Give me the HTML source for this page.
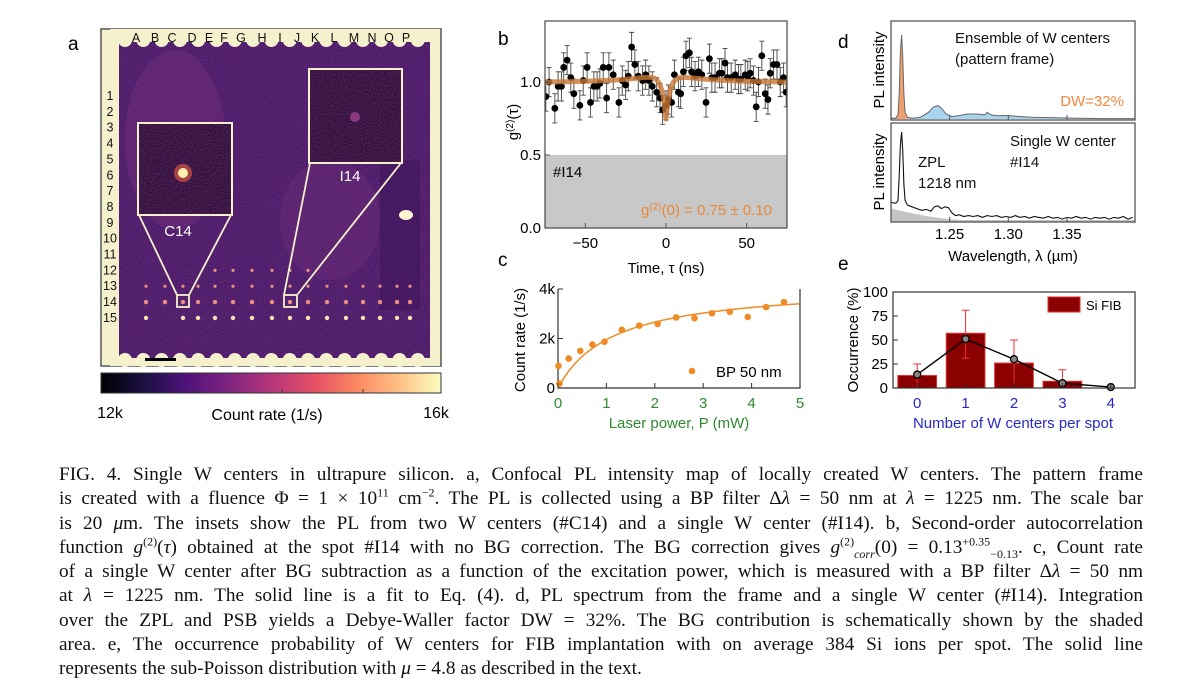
<!DOCTYPE html>
<html><head><meta charset="utf-8">
<style>
html,body{margin:0;padding:0;background:#fff;width:1200px;height:697px;overflow:hidden}
svg text{font-family:"Liberation Sans",sans-serif}
#caption{position:absolute;left:59px;top:463px;width:1084px;font-family:"Liberation Serif",serif;font-size:19.3px;color:#111}
#caption .ln{height:24.25px;line-height:24.25px;text-align:justify;text-align-last:justify;white-space:nowrap}
#caption .last{text-align-last:left}
sup,sub{font-size:12px;line-height:0}
</style></head>
<body>
<svg id="fig" width="1200" height="460" style="position:absolute;left:0;top:0" xmlns="http://www.w3.org/2000/svg">
<defs>
<linearGradient id="magma" x1="0" x2="1" y1="0" y2="0">
<stop offset="0" stop-color="#000004"/><stop offset="0.13" stop-color="#1c1044"/><stop offset="0.25" stop-color="#4f127b"/><stop offset="0.38" stop-color="#812581"/><stop offset="0.5" stop-color="#b5367a"/><stop offset="0.63" stop-color="#e55064"/><stop offset="0.75" stop-color="#fb8761"/><stop offset="0.88" stop-color="#fec287"/><stop offset="1" stop-color="#fcfdbf"/>
</linearGradient>
<filter id="noise" x="0" y="0" width="100%" height="100%">
<feTurbulence type="fractalNoise" baseFrequency="0.9" numOctaves="1" seed="3" result="n"/>
<feColorMatrix in="n" type="matrix" values="0 0 0 0 0.7  0 0 0 0 0.3  0 0 0 0 0.5  0 0 0 1.2 -0.45" result="c"/>
<feComposite in="c" in2="SourceGraphic" operator="in"/>
</filter>
<clipPath id="clipB"><rect x="545" y="21" width="242" height="207"/></clipPath>
<clipPath id="clipD1"><rect x="891" y="21" width="244" height="99"/></clipPath>
<clipPath id="clipD2"><rect x="891" y="123" width="244" height="99"/></clipPath>
</defs>
<g id="panel-a"></g>
<g id="panel-b"></g>
<g id="panel-c"></g>
<g id="panel-d"></g>
<g id="panel-e"></g>
</svg>

<div id="caption">
<div class="ln">FIG. 4. Single W centers in ultrapure silicon. a, Confocal PL intensity map of locally created W centers. The pattern frame</div>
<div class="ln">is created with a fluence Φ = 1 × 10<sup>11</sup> cm<sup>−2</sup>. The PL is collected using a BP filter Δ<i>λ</i> = 50 nm at <i>λ</i> = 1225 nm. The scale bar</div>
<div class="ln">is 20 <i>μ</i>m. The insets show the PL from two W centers (#C14) and a single W center (#I14). b, Second-order autocorrelation</div>
<div class="ln">function <i>g</i><sup>(2)</sup>(<i>τ</i>) obtained at the spot #I14 with no BG correction. The BG correction gives <i>g</i><sup>(2)</sup><sub><i>corr</i></sub>(0) = 0.13<sup>+0.35</sup><sub>−0.13</sub>. c, Count rate</div>
<div class="ln">of a single W center after BG subtraction as a function of the excitation power, which is measured with a BP filter Δ<i>λ</i> = 50 nm</div>
<div class="ln">at <i>λ</i> = 1225 nm. The solid line is a fit to Eq. (4). d, PL spectrum from the frame and a single W center (#I14). Integration</div>
<div class="ln">over the ZPL and PSB yields a Debye-Waller factor DW = 32%. The BG contribution is schematically shown by the shaded</div>
<div class="ln">area. e, The occurrence probability of W centers for FIB implantation with on average 384 Si ions per spot. The solid line</div>
<div class="ln last">represents the sub-Poisson distribution with <i>μ</i> = 4.8 as described in the text.</div>
</div>

<script>
// ---------- Panel a data ----------
const colLetters = ["A","B","C","D","E","F","G","H","I","J","K","L","M","N","O","P"];
const rowNumbers = ["1","2","3","4","5","6","7","8","9","10","11","12","13","14","15"];
const colorbarTicks = ["12k","16k"];
// ---------- Panel b data ----------
const bTau = [-74.5,-72.5,-68.9,-66.9,-64.8,-63.4,-61.3,-59.0,-57.1,-53.4,-51.3,-48.9,-46.8,-44.7,-42.7,-41.0,-38.9,-36.8,-35.4,-32.7,-29.2,-27.1,-25.0,-23.4,-21.3,-19.3,-17.2,-14.5,-12.6,-10.6,-8.5,-5.8,-3.7,-2.1,0,1.4,3.5,5.2,7.7,9.1,10.8,12.4,14.5,15.9,18.0,20.1,22.2,24.8,26.9,28.4,30.4,33.1,34.6,36.6,38.1,40.4,42.9,44.9,46.4,49.1,50.7,52.2,54.2,55.9,57.3,59.4,61.5,63.2,64.6,66.7,68.8,70.8,72.9,74.5];
const bG = [0.90,1.00,0.82,0.97,0.97,1.10,1.15,1.03,0.92,0.84,1.01,1.10,0.86,0.97,0.97,0.99,1.10,0.89,1.10,1.05,0.86,1.01,0.98,1.04,1.24,1.12,1.04,1.01,1.05,1.01,0.97,0.93,0.89,0.81,0.84,0.88,0.86,1.05,0.93,0.92,1.07,1.18,1.20,1.07,1.04,1.07,1.05,0.86,1.16,1.03,1.03,1.06,1.06,1.13,1.03,1.03,1.05,1.02,1.02,1.05,1.04,1.06,1.01,0.83,1.00,1.18,0.92,0.88,1.06,1.12,1.12,1.00,1.03,0.93];
const bErr = [0.1];
const bFitParams = [0.31, 2.5, 0.06, 25];
const bXTicks = [-50,0,50];
const bYTicks = [0.0,0.5,1.0];
// ---------- Panel c data ----------
const cPower = [0.01,0.03,0.22,0.46,0.71,0.96,1.32,1.68,2.06,2.44,2.82,3.18,3.55,3.92,4.30,4.67];
const cRate = [0.89,0.18,1.19,1.50,1.76,1.87,2.35,2.52,2.59,2.85,2.82,3.02,3.08,2.87,3.27,3.47];
const cFitParams = [4.18, 1.14];
const cXTicks = [0,1,2,3,4,5];
const cYTicks = [0,2,4];
const cYLabels = ["0","2k","4k"];
// ---------- Panel d data ----------
const dWlEns = [1.2,1.204,1.206,1.207,1.208,1.209,1.210,1.211,1.212,1.214,1.218,1.225,1.232,1.236,1.24,1.243,1.247,1.252,1.258,1.265,1.272,1.28,1.282,1.285,1.29,1.30,1.31,1.32,1.34,1.36,1.38,1.408];
const dIntEns = [0.01,0.01,0.05,0.3,0.8,1.0,0.75,0.3,0.08,0.02,0.01,0.02,0.08,0.14,0.16,0.13,0.06,0.03,0.04,0.06,0.06,0.05,0.08,0.05,0.04,0.04,0.03,0.02,0.015,0.01,0.005,0.005];
const dWlSingle = [1.200,1.204,1.206,1.207,1.208,1.209,1.210,1.211,1.212,1.214,1.218,1.222,1.226,1.230,1.234,1.237,1.240,1.243,1.246,1.249,1.252,1.255,1.258,1.262,1.266,1.270,1.274,1.278,1.282,1.286,1.290,1.294,1.298,1.302,1.306,1.310,1.314,1.318,1.322,1.326,1.330,1.334,1.338,1.342,1.346,1.350,1.354,1.358,1.362,1.366,1.370,1.374,1.378,1.382,1.386,1.390,1.394,1.398,1.402,1.406];
const dIntSingle = [0.20,0.19,0.22,0.5,0.85,1.0,0.8,0.4,0.22,0.17,0.15,0.13,0.11,0.12,0.10,0.15,0.16,0.13,0.15,0.14,0.08,0.05,0.06,0.04,0.05,0.04,0.05,0.03,0.05,0.04,0.05,0.03,0.04,0.03,0.05,0.03,0.04,0.02,0.04,0.03,0.02,0.04,0.02,0.03,0.01,0.03,0.02,0.04,0.02,0.03,0.01,0.03,0.02,0.03,0.01,0.03,0.02,0.04,0.01,0.03];
const dWlBg = [1.2,1.21,1.22,1.23,1.24,1.25,1.26,1.408];
const dIntBg = [0.13,0.10,0.07,0.045,0.025,0.01,0.0,0.0];
const dXTicks = [1.25,1.30,1.35];
// ---------- Panel e data ----------
const eCats = [0,1,2,3,4];
const eOcc = [13,57,26,7,0];
const eErrUp = [25,81,50,19,0];
const eErrLo = [0,31,0,0,0];
const ePoisson = [14,51,30,5,1];
const eYTicks = [0,25,50,75,100];

const NS = "http://www.w3.org/2000/svg";
function mk(parent, tag, attrs, text){
  const e = document.createElementNS(NS, tag);
  for (const k in attrs) e.setAttribute(k, attrs[k]);
  if (text !== undefined) e.textContent = text;
  parent.appendChild(e);
  return e;
}
function lin(d0,d1,r0,r1){ return v => r0 + (v-d0)/(d1-d0)*(r1-r0); }

// ================= PANEL A =================
(function(){
  const g = document.getElementById('panel-a');
  let t = mk(g,'text',{x:68,y:50,'font-size':19});
  t.textContent='a';
  
  
  const frame = mk(g,'rect',{x:101,y:29,width:340,height:337,fill:'#f6f1cd',stroke:'#555','stroke-width':1.5});
  
  
  const map = mk(g,'rect',{x:119,y:42,width:311,height:316,fill:'#4c1a6a'});
  
  
  mk(g,'rect',{x:119,y:42,width:311,height:316,fill:'#fff',filter:'url(#noise)',opacity:0.35});
  mk(g,'ellipse',{cx:175,cy:140,rx:50,ry:90,fill:'#8a3a88',opacity:0.25});
  mk(g,'ellipse',{cx:330,cy:220,rx:50,ry:60,fill:'#8a3a88',opacity:0.2});
  mk(g,'rect',{x:380,y:160,width:40,height:150,fill:'#3a1258',opacity:0.5});
  for (let i=0;i<17;i++){
    const cx = 125 + i*18.3;
    mk(g,'circle',{cx:cx,cy:40,r:7,fill:'#f6f1cd'});
    mk(g,'circle',{cx:cx,cy:360,r:7,fill:'#f6f1cd'});
  }
  mk(g,'rect',{x:110,y:29,width:330,height:8,fill:'#f6f1cd'});
  mk(g,'rect',{x:110,y:362,width:330,height:4,fill:'#f6f1cd'});
  const colX = [136,155,172,192,209,224,241,262,280,297,315,334,354,372,389,406];
  colLetters.forEach((c,i)=>{
    const e = mk(g,'text',{x:colX[i],y:42,'font-size':12.5,'text-anchor':'middle',fill:'#111'},c);
    
    
  });
  rowNumbers.forEach((r,i)=>{
    const e = mk(g,'text',{x:110,y:100+i*15.85,'font-size':12.5,'text-anchor':'middle',fill:'#111'},r);
    
    
  });
  const spotX = [146,165,183,198,215,233,252,272,290,308,327,346,363,380,397,410];
  for (let ri=11; ri<15; ri++){
    spotX.forEach((x,ci)=>{
      if (ri===11 && (ci<4 || ci>9)) return;
      if (ci===1 && ri===14) return;
      const s = mk(g,'circle',{cx:x,cy:96+ri*15.85,r:ri>=13?2.2:1.6,fill:ri===14?'#fde2b0':'#e89080'});
      
      
    });
  }
  mk(g,'ellipse',{cx:406,cy:215,rx:7,ry:5,fill:'#fdf5d0'});
  mk(g,'rect',{x:138,y:123,width:94,height:92,fill:'#2e0c3c',stroke:'#f6f1cd','stroke-width':2});
  mk(g,'rect',{x:139,y:124,width:92,height:90,fill:'#fff',filter:'url(#noise)',opacity:0.55});
  mk(g,'circle',{cx:183,cy:173,r:9,fill:'#f06040',opacity:0.6});
  mk(g,'circle',{cx:183,cy:173,r:5,fill:'#fdf0b0'});
  mk(g,'rect',{x:177,y:295,width:12,height:12,fill:'none',stroke:'#f6f1cd','stroke-width':1.8});
  mk(g,'path',{d:'M139,215 L177,295 M231,215 L189,295',stroke:'#f6f1cd','stroke-width':1.8,fill:'none'});
  t = mk(g,'text',{x:178,y:236,'font-size':15,'text-anchor':'middle',fill:'#fff'},'C14');
  
  
  mk(g,'rect',{x:309,y:69,width:93,height:94,fill:'#2e0c3c',stroke:'#f6f1cd','stroke-width':2});
  mk(g,'rect',{x:310,y:70,width:91,height:92,fill:'#fff',filter:'url(#noise)',opacity:0.55});
  mk(g,'circle',{cx:355,cy:117,r:5,fill:'#a04090',opacity:0.8});
  mk(g,'rect',{x:284,y:295,width:13,height:12,fill:'none',stroke:'#f6f1cd','stroke-width':1.8});
  mk(g,'path',{d:'M310,163 L284,295 M401,163 L297,295',stroke:'#f6f1cd','stroke-width':1.8,fill:'none'});
  t = mk(g,'text',{x:350,y:181,'font-size':15,'text-anchor':'middle',fill:'#fff'},'I14');
  
  
  const sb = mk(g,'rect',{x:145,y:358,width:31,height:3,fill:'#000'});
  
  
  const cb = mk(g,'rect',{x:101,y:373,width:340,height:20,fill:'url(#magma)',stroke:'#333','stroke-width':1});
  
  
  [195,282,363].forEach(x=>mk(g,'line',{x1:x,x2:x,y1:389,y2:393,stroke:'#333'}));
  t = mk(g,'text',{x:110,y:418,'font-size':16,'text-anchor':'middle'},colorbarTicks[0]);
  
  
  t = mk(g,'text',{x:436,y:418,'font-size':16,'text-anchor':'middle'},colorbarTicks[1]);
  
  
  t = mk(g,'text',{x:267,y:420,'font-size':16,'text-anchor':'middle'},'Count rate (1/s)');
  
  
})();

// ================= PANEL B =================
(function(){
  const g = document.getElementById('panel-b');
  const X = lin(-75,75,545,787), Y = lin(0,1.418,228,21);
  let t = mk(g,'text',{x:498,y:45,'font-size':19},'b');
  
  
  const band = mk(g,'rect',{x:545,y:Y(0.5),width:242,height:228-Y(0.5),fill:'#c8c8c8'});
  
  
  const cg = mk(g,'g',{'clip-path':'url(#clipB)'});
  bTau.forEach((tau,i)=>{
    const x = X(tau), y1 = Y(bG[i]+bErr[0]), y2 = Y(bG[i]-bErr[0]);
    mk(cg,'path',{d:`M${x},${y1}V${y2}M${x-2.5},${y1}h5M${x-2.5},${y2}h5`,stroke:'#444','stroke-width':0.9,fill:'none'});
  });
  bTau.forEach((tau,i)=>{
    const p = mk(cg,'circle',{cx:X(tau),cy:Y(bG[i]),r:3.4,fill:'#000'});
    
    
  });
  let d='';
  for (let tau=-75; tau<=75; tau+=0.5){
    const v = 1 - bFitParams[0]*Math.exp(-Math.abs(tau)/bFitParams[1]) + bFitParams[2]*Math.exp(-Math.abs(tau)/bFitParams[3]) - bFitParams[2]*Math.exp(-75/bFitParams[3]);
    d += (d?'L':'M')+X(tau).toFixed(1)+','+Y(v).toFixed(1);
  }
  const fit = mk(cg,'path',{d:d,stroke:'#c87533','stroke-width':5,fill:'none',opacity:0.8,'stroke-linejoin':'round'});
  
  
  mk(g,'rect',{x:545,y:21,width:242,height:207,fill:'none',stroke:'#555','stroke-width':1.3});
  bYTicks.forEach(v=>{
    mk(g,'line',{x1:545,x2:550,y1:Y(v),y2:Y(v),stroke:'#555'});
    const e = mk(g,'text',{x:541,y:Y(v)+5,'font-size':15,'text-anchor':'end'},v.toFixed(1));
    
    
  });
  bXTicks.forEach(v=>{
    mk(g,'line',{x1:X(v),x2:X(v),y1:228,y2:223,stroke:'#555'});
    const e = mk(g,'text',{x:X(v),y:248,'font-size':15,'text-anchor':'middle'},String(v).replace('-','−'));
    
    
  });
  t = mk(g,'text',{x:666,y:273,'font-size':15,'text-anchor':'middle'},'Time, τ (ns)');
  
  
  t = mk(g,'text',{transform:'translate(518,122) rotate(-90)','font-size':15,'text-anchor':'middle'});
  t.innerHTML = 'g<tspan dy="-5" font-size="10">(2)</tspan><tspan dy="5">(τ)</tspan>';
  
  
  t = mk(g,'text',{x:553,y:177,'font-size':15},'#I14');
  
  
  t = mk(g,'text',{x:772,y:215,'font-size':15,'text-anchor':'end',fill:'#e8893a'});
  t.innerHTML = 'g<tspan dy="-5" font-size="10">(2)</tspan><tspan dy="5">(0) = 0.75 ± 0.10</tspan>';
  
  
})();

// ================= PANEL C =================
(function(){
  const g = document.getElementById('panel-c');
  const X = lin(0,5,558,800), Y = lin(0,4,388,289);
  let t = mk(g,'text',{x:498,y:266,'font-size':19},'c');
  
  
  mk(g,'path',{d:'M558,289V388H800V289',stroke:'#333','stroke-width':1.2,fill:'none'});
  let d='';
  for (let p=0.005; p<=5; p+=0.02){
    const v = cFitParams[0]*p/(p+cFitParams[1]);
    d += (d?'L':'M')+X(p).toFixed(1)+','+Y(v).toFixed(1);
  }
  const fit = mk(g,'path',{d:d,stroke:'#f08a24','stroke-width':1.5,fill:'none'});
  
  
  cPower.forEach((p,i)=>{
    const c = mk(g,'circle',{cx:X(p),cy:Y(cRate[i]),r:3.3,fill:'#f08a24'});
    
    
  });
  cYTicks.forEach((v,i)=>{
    mk(g,'line',{x1:558,x2:563,y1:Y(v),y2:Y(v),stroke:'#333'});
    const e = mk(g,'text',{x:555,y:Y(v)+5,'font-size':15,'text-anchor':'end'},cYLabels[i]);
    
    
  });
  cXTicks.forEach(v=>{
    mk(g,'line',{x1:X(v),x2:X(v),y1:388,y2:383,stroke:'#333'});
    const e = mk(g,'text',{x:X(v),y:408,'font-size':15,'text-anchor':'middle',fill:'#2f8a2f'},String(v));
    
    
  });
  t = mk(g,'text',{x:679,y:428,'font-size':15,'text-anchor':'middle',fill:'#2f8a2f'},'Laser power, P (mW)');
  
  
  t = mk(g,'text',{transform:'translate(525,340) rotate(-90)','font-size':15,'text-anchor':'middle'},'Count rate (1/s)');
  
  
  const lg = mk(g,'circle',{cx:692,cy:371,r:3.3,fill:'#f08a24'});
  
  
  t = mk(g,'text',{x:716,y:377,'font-size':15},'BP 50 nm');
  
  
})();

// ================= PANEL D =================
(function(){
  const g = document.getElementById('panel-d');
  const X = lin(1.2,1.408,891,1135);
  const Y1 = lin(0,1,119,35), Y2 = lin(0,1,220,132);
  let t = mk(g,'text',{x:838,y:48,'font-size':19},'d');
  
  
  function pathOf(wl,iv,Y){ return wl.map((w,i)=>(i?'L':'M')+X(w).toFixed(1)+','+Y(iv[i]).toFixed(1)).join(''); }
  const c1 = mk(g,'g',{'clip-path':'url(#clipD1)'});
  const ensLine = pathOf(dWlEns,dIntEns,Y1);
  const areaE = ensLine + `L${X(1.408)},${Y1(0)}L${X(1.2)},${Y1(0)}Z`;
  const zc = mk(c1,'clipPath',{id:'zplClip'});
  mk(zc,'rect',{x:891,y:0,width:X(1.215)-891,height:300});
  const pc = mk(c1,'clipPath',{id:'psbClip'});
  mk(pc,'rect',{x:X(1.215),y:0,width:300,height:300});
  const zpl = mk(c1,'path',{d:areaE,fill:'#f0a070','clip-path':'url(#zplClip)'});
  
  
  const psb = mk(c1,'path',{d:areaE,fill:'#a8d4f0','clip-path':'url(#psbClip)'});
  
  
  const el = mk(c1,'path',{d:ensLine,stroke:'#666','stroke-width':1,fill:'none'});
  
  
  mk(g,'rect',{x:891,y:21,width:244,height:99,fill:'none',stroke:'#555','stroke-width':1.3});
  const c2 = mk(g,'g',{'clip-path':'url(#clipD2)'});
  const bgp = mk(c2,'path',{d:pathOf(dWlBg,dIntBg,Y2)+`L${X(1.408)},${Y2(0)+3}L${X(1.2)},${Y2(0)+3}Z`,fill:'#c4c4c4'});
  
  
  const sl = mk(c2,'path',{d:pathOf(dWlSingle,dIntSingle,Y2),stroke:'#111','stroke-width':1.1,fill:'none'});
  
  
  mk(g,'rect',{x:891,y:123,width:244,height:99,fill:'none',stroke:'#555','stroke-width':1.3});
  dXTicks.forEach(v=>{
    mk(g,'line',{x1:X(v),x2:X(v),y1:222,y2:217,stroke:'#555'});
    mk(g,'line',{x1:X(v),x2:X(v),y1:120,y2:115,stroke:'#555'});
    const e = mk(g,'text',{x:X(v),y:239,'font-size':15,'text-anchor':'middle'},v.toFixed(2));
    
    
  });
  t = mk(g,'text',{x:1013,y:261,'font-size':15,'text-anchor':'middle'},'Wavelength, λ (µm)');
  
  
  [[70,'y-axis-title-top'],[172,'y-axis-title-bottom']].forEach(([cy,n])=>{
    const e = mk(g,'text',{transform:`translate(884,${cy}) rotate(-90)`,'font-size':15,'text-anchor':'middle'},'PL intensity');
    
    
  });
  [[955,43,'Ensemble of W centers','#111','ensemble-label'],[955,64,'(pattern frame)','#111','pattern-frame-label'],
   [1010,146,'Single W center','#111','single-center-label'],[1010,167,'#I14','#111','spot-label'],
   [918,167,'ZPL','#111','zpl-label'],[918,188,'1218 nm','#111','zpl-wavelength-label']].forEach(a=>{
    const e = mk(g,'text',{x:a[0],y:a[1],'font-size':15,fill:a[3]},a[2]);
    
    
  });
  t = mk(g,'text',{x:1124,y:106,'font-size':15,'text-anchor':'end',fill:'#f08a40'},'DW=32%');
  
  
})();

// ================= PANEL E =================
(function(){
  const g = document.getElementById('panel-e');
  const X = lin(-0.5,4.5,893,1135), Y = lin(0,100,388,292);
  let t = mk(g,'text',{x:838,y:270,'font-size':19},'e');
  
  
  eCats.forEach((c,i)=>{
    if (eOcc[i] <= 0) return;
    const b = mk(g,'rect',{x:X(c-0.4),y:Y(eOcc[i]),width:X(0.4)-X(-0.4),height:388-Y(eOcc[i]),fill:'#8b0000',stroke:'#e03030','stroke-width':1});
    
    
  });
  eCats.forEach((c,i)=>{
    if (eErrUp[i] <= eOcc[i]) return;
    const x = X(c), y1 = Y(eErrUp[i]), y2 = Y(eErrLo[i]);
    mk(g,'path',{d:`M${x},${y1}V${y2}M${x-4},${y1}h8${eErrLo[i]>0?`M${x-4},${y2}h8`:''}`,stroke:'#ee3030','stroke-width':1,fill:'none'});
  });
  const pl = mk(g,'path',{d:eCats.map((c,i)=>(i?'L':'M')+X(c)+','+Y(ePoisson[i])).join(''),stroke:'#000','stroke-width':1.4,fill:'none'});
  
  
  eCats.forEach((c,i)=>{
    const p = mk(g,'circle',{cx:X(c),cy:Y(ePoisson[i]),r:3.5,fill:'#888',stroke:'#000','stroke-width':1.3});
    
    
  });
  mk(g,'rect',{x:893,y:292,width:242,height:96,fill:'none',stroke:'#333','stroke-width':1.2});
  eYTicks.forEach(v=>{
    mk(g,'line',{x1:893,x2:898,y1:Y(v),y2:Y(v),stroke:'#333'});
    const e = mk(g,'text',{x:888,y:Y(v)+5,'font-size':15,'text-anchor':'end'},String(v));
    
    
  });
  eCats.forEach(c=>{
    mk(g,'line',{x1:X(c),x2:X(c),y1:388,y2:383,stroke:'#333'});
    const e = mk(g,'text',{x:X(c),y:408,'font-size':15,'text-anchor':'middle',fill:'#2828c8'},String(c));
    
    
  });
  t = mk(g,'text',{x:1013,y:428,'font-size':15,'text-anchor':'middle',fill:'#2828c8'},'Number of W centers per spot');
  
  
  t = mk(g,'text',{transform:'translate(858,340) rotate(-90)','font-size':15,'text-anchor':'middle'},'Occurrence (%)');
  
  
  const lb = mk(g,'rect',{x:1048,y:297,width:32,height:15,fill:'#8b0000',stroke:'#e03030'});
  
  
  t = mk(g,'text',{x:1086,y:310,'font-size':13},'Si FIB');
  
  
})();
</script>
</body></html>
